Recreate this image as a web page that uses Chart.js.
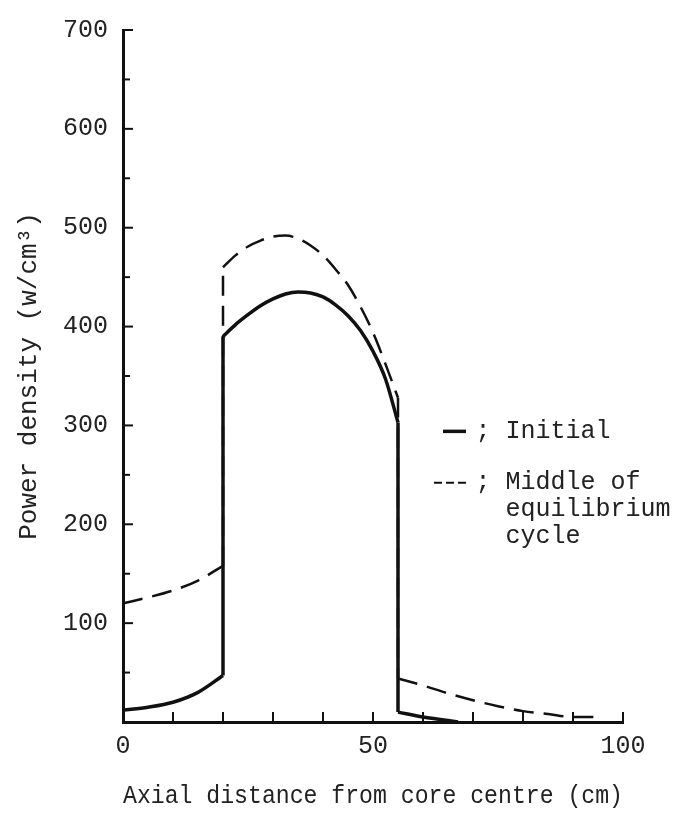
<!DOCTYPE html>
<html>
<head>
<meta charset="utf-8">
<script src="https://cdn.jsdelivr.net/npm/chart.js@4.4.1/dist/chart.umd.min.js"></script>
<style>
  html, body { margin: 0; padding: 0; background: #fff; }
</style>
</head>
<body>
<canvas id="powerChart" width="697" height="820"></canvas>
<script>
// Initial core (solid line)
var initialX = [0, 5, 10, 15, 20, 20, 22.5, 25, 27.5, 30, 32.5, 35, 37.5, 40, 42.5, 45, 47.5, 50, 52.5, 55, 55, 60, 65, 67];
var initialY = [12, 15, 20, 30, 47, 390, 402, 412, 421, 428, 433, 435, 434, 430, 422, 411, 396, 375, 347, 303, 10, 5, 1.5, 0];

// Middle of equilibrium cycle (dashed line)
var middleX = [0, 5, 10, 15, 20, 20, 22.5, 25, 27.5, 30, 32.5, 35, 37.5, 40, 42.5, 45, 47.5, 50, 52.5, 55, 55, 55, 60, 65, 70, 75, 80, 85, 90, 96];
var middleY = [120, 126, 133, 143, 158, 460, 472, 481, 487, 491, 492, 489, 482, 472, 458, 442, 420, 394, 362, 328, 312, 44, 37, 29, 22, 16, 11, 8, 5, 5];

// tick labels
var xTickLabels = [0, 50, 100];
var yTickLabels = [100, 200, 300, 400, 500, 600, 700];

// cut a series into smooth pieces and the vertical steps between them
function pieces(xs, ys) {
    var out = [], cur = [{ x: xs[0], y: ys[0] }];
    for (var i = 1; i < xs.length; i++) {
        var step = xs[i] === xs[i - 1];
        var curStep = cur.length > 1 && cur[1].x === cur[0].x;
        if (cur.length > 1 && step !== curStep) {
            out.push(cur);
            cur = [cur[cur.length - 1]];
        }
        cur.push({ x: xs[i], y: ys[i] });
    }
    out.push(cur);
    return out;
}

var ink = '#111';
var mono = 'Liberation Mono, DejaVu Sans Mono, monospace';

var datasets = [];
pieces(initialX, initialY).forEach(function (pts) {
    datasets.push({
        label: 'Initial',
        data: pts,
        borderColor: ink,
        borderWidth: 3.5,
        pointRadius: 0,
        cubicInterpolationMode: 'monotone',
        fill: false
    });
});
pieces(middleX, middleY).forEach(function (pts) {
    datasets.push({
        label: 'Middle of equilibrium cycle',
        data: pts,
        borderColor: ink,
        borderWidth: 2.5,
        borderDash: [20, 10],
        pointRadius: 0,
        cubicInterpolationMode: 'monotone',
        fill: false
    });
});

// ticks drawn inside the plot, like the original figure
var inwardTicks = {
    id: 'inwardTicks',
    afterDraw: function (chart) {
        var ctx = chart.ctx, xs = chart.scales.x, ys = chart.scales.y;
        ctx.save();
        ctx.strokeStyle = ink;
        ctx.lineWidth = 2;
        xs.ticks.forEach(function (t) {
            var px = xs.getPixelForValue(t.value);
            ctx.beginPath();
            ctx.moveTo(px, ys.bottom);
            ctx.lineTo(px, ys.bottom - 10);
            ctx.stroke();
        });
        ys.ticks.forEach(function (t) {
            if (t.value === 0) return;
            var py = ys.getPixelForValue(t.value);
            var len = t.value % 100 === 0 ? 10 : 7;
            ctx.beginPath();
            ctx.moveTo(xs.left, py);
            ctx.lineTo(xs.left + len, py);
            ctx.stroke();
        });
        ctx.restore();
    }
};

// legend written into the plot area
var textLegend = {
    id: 'textLegend',
    afterDraw: function (chart) {
        var ctx = chart.ctx, xs = chart.scales.x, ys = chart.scales.y;
        var tx = xs.getPixelForValue(70.5);
        var r1 = ys.getPixelForValue(294);
        var r2 = ys.getPixelForValue(242);
        var lh = 27;
        ctx.save();
        ctx.strokeStyle = ink;
        ctx.lineWidth = 3.5;
        ctx.beginPath();
        ctx.moveTo(xs.getPixelForValue(64), r1);
        ctx.lineTo(xs.getPixelForValue(68.6), r1);
        ctx.stroke();
        ctx.lineWidth = 2;
        ctx.setLineDash([8, 4]);
        ctx.beginPath();
        ctx.moveTo(xs.getPixelForValue(62.2), r2);
        ctx.lineTo(xs.getPixelForValue(69.4), r2);
        ctx.stroke();
        ctx.setLineDash([]);
        ctx.fillStyle = '#222';
        ctx.font = '25px ' + mono;
        ctx.textBaseline = 'middle';
        ctx.fillText('; Initial', tx, r1);
        ctx.fillText('; Middle of', tx, r2);
        var ix = tx + ctx.measureText('; ').width;
        ctx.fillText('equilibrium', ix, r2 + lh);
        ctx.fillText('cycle', ix, r2 + lh * 2);
        ctx.restore();
    }
};

var myChart = new Chart(document.getElementById('powerChart').getContext('2d'), {
    type: 'line',
    data: { datasets: datasets },
    options: {
        responsive: false,
        animation: false,
        layout: { padding: { top: 22, right: 74 } },
        plugins: {
            legend: { display: false },
            tooltip: { enabled: false }
        },
        scales: {
            x: {
                type: 'linear',
                min: 0,
                max: 100,
                afterFit: function (s) { s.height = 98; },
                grid: { display: false, drawTicks: false },
                border: { display: true, color: ink, width: 3 },
                ticks: {
                    stepSize: 10,
                    autoSkip: false,
                    maxRotation: 0,
                    padding: 9,
                    color: '#222',
                    font: { family: mono, size: 25 },
                    callback: function (v) { return xTickLabels.indexOf(v) >= 0 ? String(v) : ''; }
                },
                title: {
                    display: true,
                    text: 'Axial distance from core centre (cm)',
                    color: '#222',
                    font: { family: mono, size: 26 },
                    padding: { top: 0, bottom: 8 }
                }
            },
            y: {
                type: 'linear',
                min: 0,
                max: 700,
                afterFit: function (s) { s.width = 123; },
                grid: { display: false, drawTicks: false },
                border: { display: true, color: ink, width: 3 },
                ticks: {
                    stepSize: 50,
                    autoSkip: false,
                    padding: 15,
                    color: '#222',
                    font: { family: mono, size: 25 },
                    callback: function (v) { return yTickLabels.indexOf(v) >= 0 ? String(v) : ''; }
                },
                title: {
                    display: true,
                    text: 'Power density (w/cm³)',
                    color: '#222',
                    font: { family: mono, size: 26 },
                    padding: { top: 14, bottom: 0 }
                }
            }
        }
    },
    plugins: [inwardTicks, textLegend]
});
</script>
</body>
</html>
